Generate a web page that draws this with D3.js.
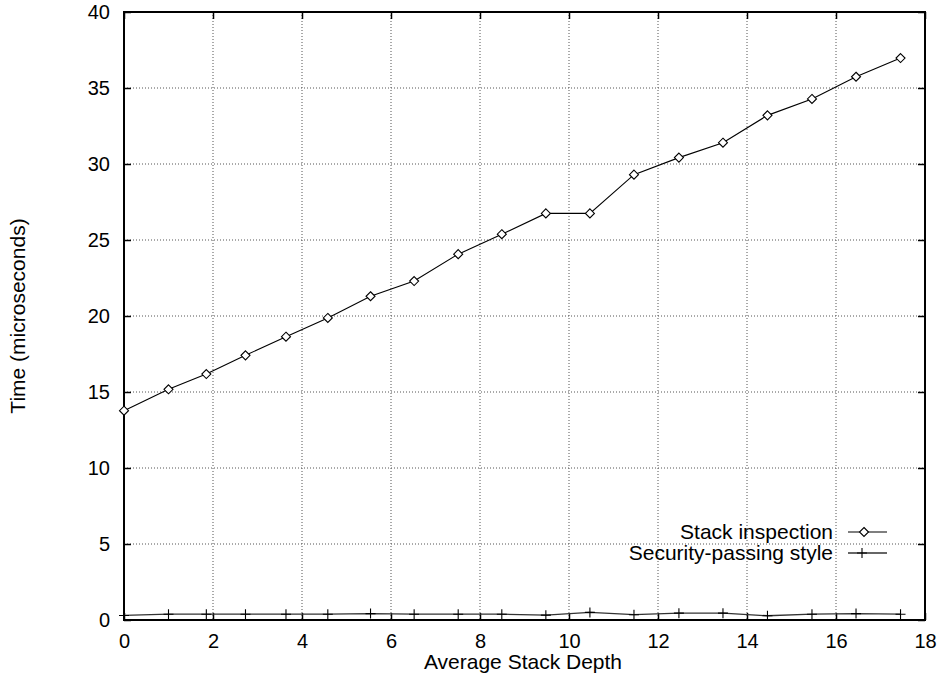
<!DOCTYPE html>
<html>
<head>
<meta charset="utf-8">
<script src="https://cdn.jsdelivr.net/npm/d3@7"></script>
<style>
  body { margin: 0; background: #fff; }
  svg text { font-family: "Liberation Sans", Arial, sans-serif; fill: #000; }
</style>
</head>
<body>
<svg id="chart" width="941" height="675"></svg>
<script>
// stack depth values (x) measured for each run
var depths = [0, 1, 1.85, 2.73, 3.64, 4.58, 5.54, 6.52, 7.51, 8.49, 9.48, 10.47, 11.46, 12.47, 13.46, 14.46, 15.46, 16.45, 17.45];
var stackInspection = [13.77, 15.18, 16.18, 17.41, 18.64, 19.87, 21.3, 22.3, 24.07, 25.38, 26.75, 26.75, 29.3, 30.42, 31.4, 33.2, 34.28, 35.74, 36.97];
var securityPassing = [0.3, 0.38, 0.38, 0.38, 0.38, 0.38, 0.42, 0.38, 0.38, 0.38, 0.32, 0.5, 0.35, 0.45, 0.45, 0.28, 0.38, 0.42, 0.38];
var xTicks = [0, 2, 4, 6, 8, 10, 12, 14, 16, 18];
var yTicks = [0, 5, 10, 15, 20, 25, 30, 35, 40];
var seriesNames = ["Stack inspection", "Security-passing style"];

var plotL = 124, plotR = 925, plotT = 12, plotB = 620;
var tickFont = "20px", labelFont = "21px";
var svg = d3.select("#chart");

var x = d3.scaleLinear().domain([0, 18]).range([plotL, plotR]);
var y = d3.scaleLinear().domain([0, 40]).range([plotB, plotT]);

// grid
svg.append("g").selectAll("line").data(xTicks.slice(1, -1)).enter().append("line")
    .attr("x1", function(d) { return x(d); }).attr("x2", function(d) { return x(d); })
    .attr("y1", plotT).attr("y2", plotB)
    .attr("stroke", "#555").attr("stroke-width", 1).attr("stroke-dasharray", "1,2");
svg.append("g").selectAll("line").data(yTicks.slice(1, -1)).enter().append("line")
    .attr("y1", function(d) { return y(d); }).attr("y2", function(d) { return y(d); })
    .attr("x1", plotL).attr("x2", plotR)
    .attr("stroke", "#555").attr("stroke-width", 1).attr("stroke-dasharray", "1,2");

// axes with inward ticks, mirrored on top/right
function styleAxis(g) {
  g.select(".domain").remove();
  g.selectAll(".tick line").attr("stroke", "#000").attr("stroke-width", 1.5);
  g.selectAll(".tick text").style("font-size", tickFont).attr("fill", "#000");
}
svg.append("g").attr("transform", "translate(0," + plotB + ")")
    .call(d3.axisBottom(x).tickValues(xTicks).tickSizeInner(-7).tickPadding(14).tickFormat(d3.format("d")))
    .call(styleAxis);
svg.append("g").attr("transform", "translate(0," + plotT + ")")
    .call(d3.axisTop(x).tickValues(xTicks).tickSizeInner(-7).tickFormat(""))
    .call(styleAxis);
svg.append("g").attr("transform", "translate(" + plotL + ",0)")
    .call(d3.axisLeft(y).tickValues(yTicks).tickSizeInner(-7).tickPadding(14).tickFormat(d3.format("d")))
    .call(styleAxis);
svg.append("g").attr("transform", "translate(" + plotR + ",0)")
    .call(d3.axisRight(y).tickValues(yTicks).tickSizeInner(-7).tickFormat(""))
    .call(styleAxis);

// frame
svg.append("rect").attr("x", plotL).attr("y", plotT)
    .attr("width", plotR - plotL).attr("height", plotB - plotT)
    .attr("fill", "none").attr("stroke", "#000").attr("stroke-width", 2);

// series lines
var line = d3.line();
svg.append("path")
    .attr("d", line(depths.map(function(d, i) { return [x(d), y(stackInspection[i])]; })))
    .attr("fill", "none").attr("stroke", "#000").attr("stroke-width", 1.1);
svg.append("path")
    .attr("d", line(depths.map(function(d, i) { return [x(d), y(securityPassing[i])]; })))
    .attr("fill", "none").attr("stroke", "#333").attr("stroke-width", 1.3);

function diamond(g, cx, cy) {
  g.append("path")
    .attr("d", "M" + cx + "," + (cy - 4.5) + "L" + (cx + 4.5) + "," + cy + "L" + cx + "," + (cy + 4.5) + "L" + (cx - 4.5) + "," + cy + "Z")
    .attr("fill", "#fff").attr("stroke", "#000").attr("stroke-width", 1.1);
}
function plus(g, cx, cy) {
  g.append("path")
    .attr("d", "M" + (cx - 5) + "," + cy + "H" + (cx + 5) + "M" + cx + "," + (cy - 5) + "V" + (cy + 5))
    .attr("stroke", "#000").attr("stroke-width", 1.1);
}
var marks = svg.append("g");
depths.forEach(function(d, i) {
  diamond(marks, x(d), y(stackInspection[i]));
  plus(marks, x(d), y(securityPassing[i]));
});

// legend
var legend = svg.append("g");
var legendY = [532, 553];
seriesNames.forEach(function(name, i) {
  legend.append("text").attr("x", 833).attr("y", legendY[i]).attr("dy", "0.35em")
      .attr("text-anchor", "end").style("font-size", labelFont).text(name);
  legend.append("line").attr("x1", 848).attr("x2", 887)
      .attr("y1", legendY[i]).attr("y2", legendY[i])
      .attr("stroke", i == 0 ? "#000" : "#333").attr("stroke-width", i == 0 ? 1.1 : 1.3);
  if (i == 0) diamond(legend, 864, legendY[i]);
  else plus(legend, 862, legendY[i]);
});

// axis titles
svg.append("text").attr("x", 523).attr("y", 662).attr("dy", "0.35em")
    .attr("text-anchor", "middle").style("font-size", labelFont).text("Average Stack Depth");
svg.append("text").attr("transform", "translate(18,316) rotate(-90)").attr("dy", "0.35em")
    .attr("text-anchor", "middle").style("font-size", labelFont).text("Time (microseconds)");
</script>
</body>
</html>
